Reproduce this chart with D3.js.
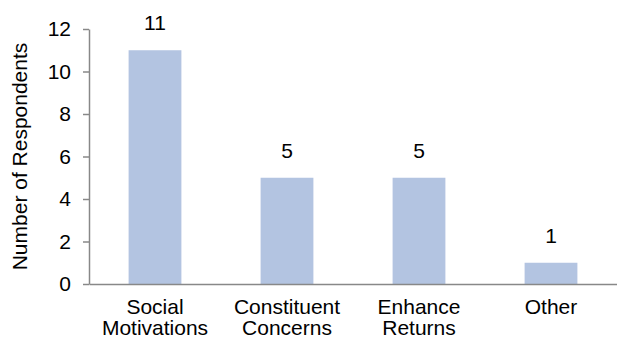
<!DOCTYPE html>
<html>
<head>
<meta charset="utf-8">
<script src="https://cdn.jsdelivr.net/npm/d3@7"></script>
<style>
  html, body { margin: 0; padding: 0; background: #fff; }
  svg { display: block; font-family: "Liberation Sans", Arial, sans-serif; }
</style>
</head>
<body>
<svg id="chart" width="617" height="342"></svg>
<script>
// Reasons given by respondents
const categories = [["Social", "Motivations"], ["Constituent", "Concerns"], ["Enhance", "Returns"], ["Other"]];
const respondents = [11, 5, 5, 1];
const yTicks = [0, 2, 4, 6, 8, 10, 12];

const fontSize = 21;
const axisColor = "#888888";
const barColor = "#b3c4e1";

const svg = d3.select("#chart");
const margin = { left: 89, right: 0, top: 29, bottom: 58 };
const W = 617, H = 342;

const keys = categories.map(c => c.join(" "));
const x = d3.scaleBand().domain(keys).range([margin.left, W - margin.right]).paddingInner(0.6).paddingOuter(0.3);
const y = d3.scaleLinear().domain([0, 12]).range([H - margin.bottom, margin.top]);

// bars
svg.append("g").selectAll("rect")
  .data(respondents)
  .join("rect")
  .attr("x", (d, i) => x(keys[i]))
  .attr("y", d => y(d))
  .attr("width", x.bandwidth())
  .attr("height", d => y(0) - y(d))
  .attr("fill", barColor);

// value labels
svg.append("g").selectAll("text")
  .data(respondents)
  .join("text")
  .attr("x", (d, i) => x(keys[i]) + x.bandwidth() / 2)
  .attr("y", d => y(d) - 20)
  .attr("text-anchor", "middle")
  .attr("font-size", fontSize)
  .attr("fill", "#000")
  .text(d => d);

// y axis
const yAxis = svg.append("g")
  .attr("transform", `translate(${margin.left},0)`)
  .call(d3.axisLeft(y).tickValues(yTicks).tickSize(6).tickPadding(12).tickSizeOuter(0));
yAxis.select(".domain").attr("stroke", axisColor).attr("stroke-width", 1.5);
yAxis.selectAll(".tick line").attr("stroke", axisColor).attr("stroke-width", 1.5);
yAxis.selectAll(".tick text").attr("font-size", fontSize).attr("fill", "#000").attr("font-family", null);

// x axis baseline
const xAxis = svg.append("g")
  .attr("transform", `translate(0,${y(0)})`)
  .call(d3.axisBottom(x).tickSize(0).tickSizeOuter(0).tickFormat(""));
xAxis.select(".domain").attr("stroke", axisColor).attr("stroke-width", 1.5);

// category labels, two lines
svg.append("g").selectAll("text")
  .data(categories)
  .join("text")
  .attr("text-anchor", "middle")
  .attr("font-size", fontSize)
  .attr("fill", "#000")
  .attr("transform", (d, i) => `translate(${x(keys[i]) + x.bandwidth() / 2},${y(0) + 30})`)
  .selectAll("tspan")
  .data(d => d)
  .join("tspan")
  .attr("x", 0)
  .attr("dy", (d, j) => j === 0 ? 0 : 21)
  .text(d => d);

// y axis title
svg.append("text")
  .attr("transform", `translate(${27},${(y(0) + y(12)) / 2}) rotate(-90)`)
  .attr("text-anchor", "middle")
  .attr("font-size", fontSize)
  .attr("fill", "#000")
  .text("Number of Respondents");
</script>
</body>
</html>
